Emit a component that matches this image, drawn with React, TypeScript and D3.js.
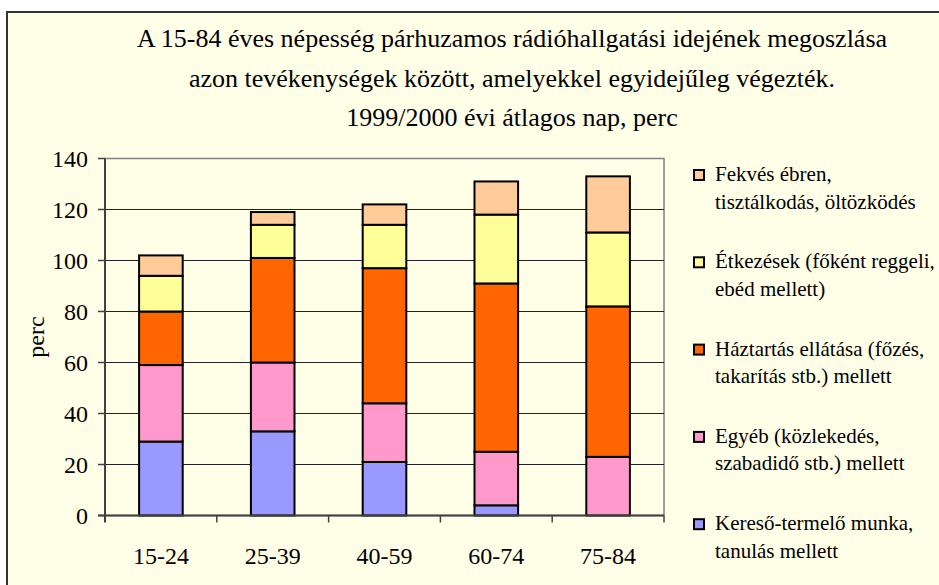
import * as d3 from 'd3';

const categories = ['15-24', '25-39', '40-59', '60-74', '75-84'];

// series, bottom to top
const kereso = [29, 33, 21, 4, 0];
const egyeb = [30, 27, 23, 21, 23];
const haztartas = [21, 41, 53, 66, 59];
const etkezes = [14, 13, 17, 27, 29];
const fekves = [8, 5, 8, 13, 22];

const seriesNames = ['kereso', 'egyeb', 'haztartas', 'etkezes', 'fekves'];
const seriesColors = ['#9999FF', '#FF99CC', '#FF6600', '#FFFF99', '#FFCC99'];

// legend is listed top to bottom (reverse of the stack)
const legendLabels = [
  ['Fekvés ébren,', 'tisztálkodás, öltözködés'],
  ['Étkezések (főként reggeli,', 'ebéd mellett)'],
  ['Háztartás ellátása (főzés,', 'takarítás stb.) mellett'],
  ['Egyéb (közlekedés,', 'szabadidő stb.) mellett'],
  ['Kereső-termelő munka,', 'tanulás mellett'],
];
const legendColors = ['#FFCC99', '#FFFF99', '#FF6600', '#FF99CC', '#9999FF'];

const titleLines = [
  'A 15-84 éves népesség párhuzamos rádióhallgatási idejének megoszlása',
  'azon tevékenységek között, amelyekkel egyidejűleg végezték.',
  '1999/2000 évi átlagos nap, perc',
];

const yTicks = [0, 20, 40, 60, 80, 100, 120, 140];

export default function App() {
  const width = 939;
  const height = 585;
  const plot = { left: 105, right: 664, top: 158.5, bottom: 515.5 };
  const font = "'Liberation Serif', 'Times New Roman', 'DejaVu Serif', serif";

  const rows = categories.map((c, i) => ({
    cat: c,
    kereso: kereso[i],
    egyeb: egyeb[i],
    haztartas: haztartas[i],
    etkezes: etkezes[i],
    fekves: fekves[i],
  }));
  const stacked = d3.stack<any>().keys(seriesNames)(rows);

  const x = d3
    .scaleBand()
    .domain(categories)
    .range([plot.left, plot.right])
    .paddingInner(0.61)
    .paddingOuter(0.305);
  const step = x.step();

  const y = d3.scaleLinear().domain([0, 140]).range([plot.bottom, plot.top]);

  return (
    <svg width={width} height={height} style={{ position: 'absolute', left: 0, top: 0, fontFamily: font }}>
      <rect x={0} y={0} width={width} height={height} fill="#ffffff" />
      <rect x={7} y={12} width={width} height={height} fill="#FFFFE8" stroke="#333333" strokeWidth={2} />

      {/* title */}
      {titleLines.map((t, i) => (
        <text key={i} x={512} y={47 + i * 39.5} textAnchor="middle" fontSize={26} fill="#000">
          {t}
        </text>
      ))}

      {/* plot frame */}
      <rect
        x={plot.left}
        y={plot.top}
        width={plot.right - plot.left}
        height={plot.bottom - plot.top}
        fill="#FFFFE8"
        stroke="#808080"
        strokeWidth={1.5}
      />

      {/* gridlines */}
      {yTicks.slice(1, -1).map((t) => (
        <line key={t} x1={plot.left} x2={plot.right} y1={y(t)} y2={y(t)} stroke="#222" strokeWidth={1} />
      ))}

      {/* bars */}
      {stacked.map((s, si) =>
        s.map((d, ci) =>
          d[1] - d[0] > 0 ? (
            <rect
              key={`${si}-${ci}`}
              x={x(categories[ci])!}
              y={y(d[1])}
              width={x.bandwidth()}
              height={y(d[0]) - y(d[1])}
              fill={seriesColors[si]}
              stroke="#000"
              strokeWidth={2}
            />
          ) : null
        )
      )}

      {/* axes */}
      <line x1={plot.left} x2={plot.left} y1={plot.top} y2={plot.bottom + 7} stroke="#404040" strokeWidth={2} />
      <line x1={plot.left - 7} x2={plot.right} y1={plot.bottom} y2={plot.bottom} stroke="#404040" strokeWidth={2} />
      {yTicks.map((t) => (
        <g key={t}>
          <line x1={plot.left - 7} x2={plot.left} y1={y(t)} y2={y(t)} stroke="#404040" strokeWidth={1.5} />
          <text x={88} y={y(t) + 8} textAnchor="end" fontSize={24} fill="#000">
            {t}
          </text>
        </g>
      ))}
      {categories.map((c, i) => (
        <g key={c}>
          <line
            x1={plot.left + step * (i + 1)}
            x2={plot.left + step * (i + 1)}
            y1={plot.bottom}
            y2={plot.bottom + 7}
            stroke="#404040"
            strokeWidth={1.5}
          />
          <text x={x(c)! + x.bandwidth() / 2} y={564} textAnchor="middle" fontSize={24} fill="#000">
            {c}
          </text>
        </g>
      ))}
      <text transform={`translate(44,${(plot.top + plot.bottom) / 2}) rotate(-90)`} textAnchor="middle" fontSize={24} fill="#000">
        perc
      </text>

      {/* legend */}
      {legendLabels.map((lines, i) => {
        const by = 181 + i * 87.3;
        return (
          <g key={i}>
            <rect x={694} y={by - 11} width={10} height={10} fill={legendColors[i]} stroke="#000" strokeWidth={2} />
            {lines.map((l, j) => (
              <text key={j} x={715} y={by + j * 27.5} fontSize={21} fill="#000">
                {l}
              </text>
            ))}
          </g>
        );
      })}
    </svg>
  );
}
